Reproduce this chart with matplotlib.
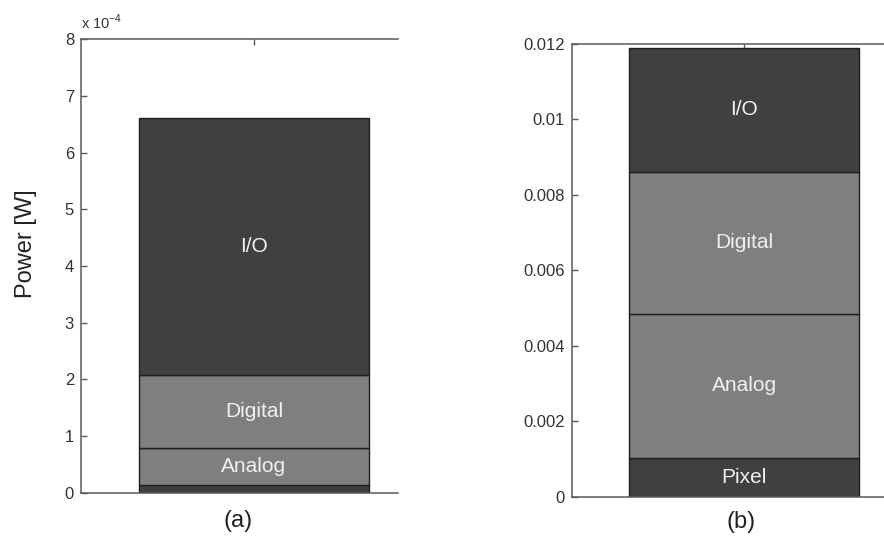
import matplotlib
matplotlib.use("Agg")
import matplotlib.pyplot as plt

plt.rcParams['font.family'] = ['Liberation Sans', 'DejaVu Sans']

# (a) power breakdown, units of 1e-4 W
a_parts = ["Pixel", "Analog", "Digital", "I/O"]
a_values = [0.136, 0.654, 1.28, 4.55]
a_labels = ["", "Analog", "Digital", "I/O"]

# (b) power breakdown, W
b_parts = ["Pixel", "Analog", "Digital", "I/O"]
b_values = [0.00102, 0.00383, 0.00375, 0.00329]
b_labels = ["Pixel", "Analog", "Digital", "I/O"]

colors = ["#404040", "#7f7f7f", "#7f7f7f", "#404040"]
a_yticks = [0, 1, 2, 3, 4, 5, 6, 7, 8]
b_yticks = [0, 0.002, 0.004, 0.006, 0.008, 0.01, 0.012]
b_yticklabels = ["0", "0.002", "0.004", "0.006", "0.008", "0.01", "0.012"]

W, H = 884, 540
fig = plt.figure(figsize=(W / 100, H / 100), dpi=100)

spine_col = "#5a5a5a"
tick_col = "#333333"


def stacked(ax, values, labels):
    bottom = 0.0
    for v, lab, c in zip(values, labels, colors):
        ax.bar(1, v, width=0.8, bottom=bottom, color=c,
               edgecolor="#1e1e1e", linewidth=1.0, zorder=2)
        if lab:
            ax.text(1, bottom + v / 2, lab, ha="center", va="center",
                    color="#f0f0f0", fontsize=15, zorder=3)
        bottom += v


def style(ax):
    ax.set_xlim(0.4, 1.5)
    for s in ("left", "top", "bottom"):
        ax.spines[s].set_color(spine_col)
        ax.spines[s].set_linewidth(1.1)
    ax.spines["right"].set_visible(False)
    ax.tick_params(axis="y", direction="in", length=4, width=1,
                   color=spine_col, labelcolor=tick_col, labelsize=12, pad=5)
    ax.set_xticks([1])
    ax.set_xticklabels([])
    ax.tick_params(axis="x", direction="in", length=4, width=1,
                   color=spine_col, top=True, bottom=False)


# left panel
ax1 = fig.add_axes([81 / W, 1 - 492.7 / H, (398 - 81) / W, (492.7 - 39.3) / H])
stacked(ax1, a_values, a_labels)
style(ax1)
ax1.set_ylim(0, 8)
ax1.set_yticks(a_yticks)
ax1.set_yticklabels([str(t) for t in a_yticks])
ax1.text(0.0, 1.015, r"x 10$^{\mathregular{-4}}$", transform=ax1.transAxes,
         ha="left", va="bottom", fontsize=10.5, color=tick_col)

# right panel (extends past the right edge of the canvas)
ax2 = fig.add_axes([572 / W, 1 - 496.7 / H, (888 - 572) / W, (496.7 - 43.7) / H])
stacked(ax2, b_values, b_labels)
style(ax2)
ax2.set_ylim(0, 0.012)
ax2.set_yticks(b_yticks)
ax2.set_yticklabels(b_yticklabels)

fig.text(26 / W, 1 - 244 / H, "Power [W]", rotation=90, ha="center",
         va="center", fontsize=17, color="#222222")
fig.text(238 / W, 1 - 521 / H, "(a)", ha="center", va="center",
         fontsize=17, color="#222222")
fig.text(741 / W, 1 - 522 / H, "(b)", ha="center", va="center",
         fontsize=17, color="#222222")

fig.savefig("out.png", dpi=100)
